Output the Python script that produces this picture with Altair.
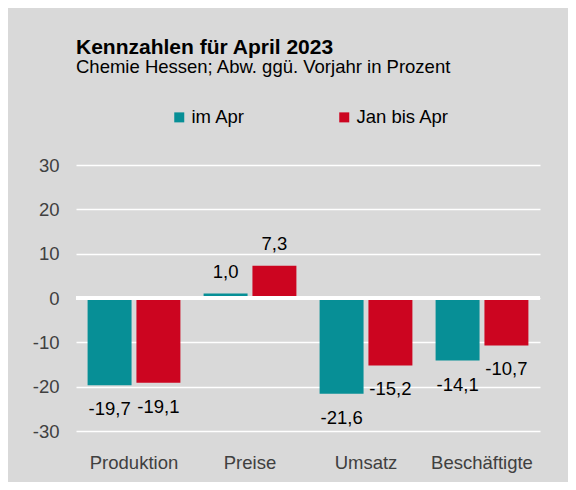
import altair as alt
import pandas as pd

categories = ["Produktion", "Preise", "Umsatz", "Beschäftigte"]
series = ["im Apr", "Jan bis Apr"]
im_apr = [-19.7, 1.0, -21.6, -14.1]
jan_bis_apr = [-19.1, 7.3, -15.2, -10.7]
colors = ["#078f96", "#cc0520"]
y_ticks = [-30, -20, -10, 0, 10, 20, 30]

rows = []
for c, a, b in zip(categories, im_apr, jan_bis_apr):
    rows.append({"Kategorie": c, "Reihe": series[0], "Wert": a})
    rows.append({"Kategorie": c, "Reihe": series[1], "Wert": b})
df = pd.DataFrame(rows)

FONT = "Liberation Sans"
FS = 18.5

x = alt.X("Kategorie:N", sort=categories,
          scale=alt.Scale(paddingInner=0.2, paddingOuter=0.1),
          axis=alt.Axis(title=None, labelAngle=0, labelFontSize=FS, labelColor="#404040",
                        labelFont=FONT, domain=False, ticks=False, labelPadding=22))
xoff = alt.XOffset("Reihe:N", sort=series, scale=alt.Scale(paddingInner=0.1))
y = alt.Y("Wert:Q", scale=alt.Scale(domain=[-30, 30], nice=False),
          axis=alt.Axis(title=None, values=y_ticks, labelFontSize=FS, labelColor="#404040",
                        labelFont=FONT, domain=False, ticks=False, labelPadding=17,
                        labelExpr="toString(datum.value)",
                        grid=True, gridColor="#ffffff", gridWidth=1.5))

base = alt.Chart(df)

bars = base.mark_bar().encode(
    x=x, xOffset=xoff, y=y,
    color=alt.Color("Reihe:N", sort=series,
                    scale=alt.Scale(domain=series, range=colors),
                    legend=alt.Legend(title=None, orient="none", direction="horizontal",
                                      legendX=94, legendY=-57, symbolType="square",
                                      symbolSize=100, symbolStrokeWidth=0, labelFontSize=FS,
                                      labelFont=FONT, labelColor="#000000", labelOffset=3,
                                      columnPadding=90)),
)

zero = alt.Chart(pd.DataFrame({"z": [0]})).mark_rule(color="#ffffff", strokeWidth=4).encode(y=alt.Y("z:Q"))

lbl = base.transform_calculate(
    label="replace(replace(format(datum.Wert, '.1f'), '.', ','), '\u2212', '-')"
)
pos = lbl.transform_filter("datum.Wert >= 0").mark_text(
    dy=-22, fontSize=FS, font=FONT, color="#000000", baseline="middle"
).encode(x=x, xOffset=xoff, y=y, text="label:N")
neg = lbl.transform_filter("datum.Wert < 0").mark_text(
    dy=24, fontSize=FS, font=FONT, color="#000000", baseline="middle"
).encode(x=x, xOffset=xoff, y=y, text="label:N")

chart = alt.layer(bars, zero, pos, neg).properties(
    width=464, height=266,
    autosize=alt.AutoSizeParams(type="none"),
    padding={"left": 68, "top": 157, "right": 28, "bottom": 51},
    title=alt.Title("Kennzahlen für April 2023",
                    subtitle="Chemie Hessen; Abw. ggü. Vorjahr in Prozent",
                    anchor="start", frame="group", offset=32,
                    font=FONT, fontSize=21, fontWeight="bold", color="#000000",
                    subtitleFont=FONT, subtitleFontSize=FS, subtitleColor="#000000",
                    subtitlePadding=0),
).configure(background="#d9d9d9").configure_view(stroke=None)

chart.save("out.html", embed_options={"renderer": "svg", "actions": False})
